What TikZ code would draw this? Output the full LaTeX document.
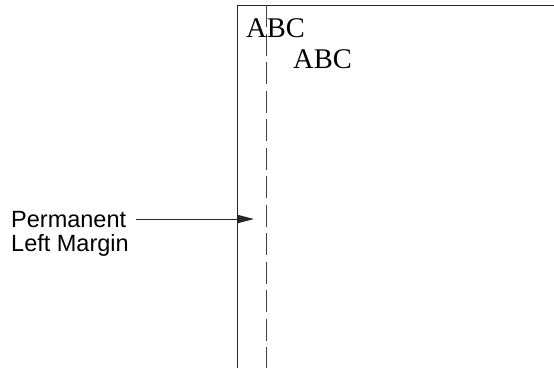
\documentclass[tikz,border=0pt]{standalone}
\usepackage{fontspec}
\setmainfont{Liberation Serif}
\newfontfamily\labelsans{Liberation Sans}
\usetikzlibrary{arrows.meta}
\begin{document}
\begin{tikzpicture}[x=1pt,y=-1pt,
  frameline/.style={line width=1pt, black!85},
  marginline/.style={line width=1pt, black!75, dash pattern=on 22pt off 6.5pt},
  sampletext/.style={inner sep=0pt, anchor=base west, font=\fontsize{28.5}{30}\selectfont},
  sidelabel/.style={inner sep=0pt, anchor=base west, font=\labelsans\fontsize{23.5}{24}\selectfont},
  pointer/.style={line width=1pt, black!85, -{Triangle[length=16pt,width=8pt]}}]
\useasboundingbox (0,0) rectangle (554,368);
\draw[frameline] (237,368) -- (237,5) -- (554,5);
\draw[marginline] (266.5,5) -- (266.5,368);
\node[sampletext] (abc1) at (246,37.5) {ABC};
\node[sampletext] (abc2) at (293,68.5) {ABC};
\node[sidelabel] (perm) at (11,227) {Permanent};
\node[sidelabel] (lm) at (11,251) {Left Margin};
\coordinate (tip) at (254,219);
\draw[pointer] ([xshift=10pt]perm.east) -- (perm.east -| tip);
\end{tikzpicture}
\end{document}
